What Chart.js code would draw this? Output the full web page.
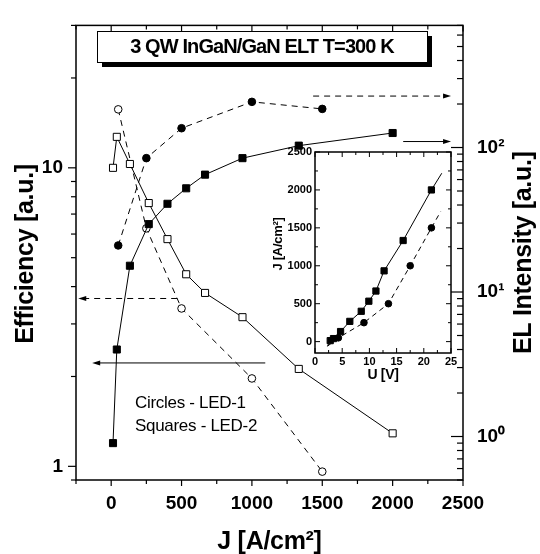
<!DOCTYPE html>
<html>
<head>
<meta charset="utf-8">
<title>InGaN/GaN LED efficiency and EL intensity</title>
<script src="https://cdn.jsdelivr.net/npm/chart.js@4.4.1/dist/chart.umd.min.js"></script>
<style>
  body { margin: 0; background: #fff; }
  #wrap { position: relative; width: 540px; height: 554px; }
  #mainChart { position: absolute; left: 0; top: 0; }
  #insetChart { position: absolute; left: 265px; top: 140px; }
</style>
</head>
<body>
<div id="wrap">
  <canvas id="mainChart" width="540" height="554"></canvas>
  <canvas id="insetChart" width="200" height="250"></canvas>
</div>
<script>
// --- Data ---
// LED-2 (squares)
const led2J = [13, 40, 133, 267, 400, 533, 667, 933, 1333, 2000];
const led2EL = [0.9, 4.0, 15.2, 29.5, 40.8, 52.2, 64.9, 84.4, 103, 126];
const led2Eff = [10.0, 12.7, 10.3, 7.62, 5.77, 4.4, 3.81, 3.16, 2.12, 1.29];
const led2U = [2.8, 3.4, 4.7, 6.4, 8.5, 9.9, 11.2, 12.7, 16.2, 21.4];

// LED-1 (circles)
const led1J = [50, 250, 500, 1000, 1500];
const led1EL = [21.0, 84.4, 136, 207, 185];
const led1Eff = [15.7, 6.27, 3.38, 1.97, 0.96];
const led1U = [4.3, 9.0, 13.5, 17.5, 21.4];

// I-V curves continue past the measured points
const led2CurveU = [2.3, 23.3];
const led2CurveJ = [-60, 2220];
const led1CurveU = [2.3, 23.1];
const led1CurveJ = [-60, 1715];

// arrows telling which axis a curve belongs to
const arrowFromJ = [1435, 2075, 469, 1095];
const arrowToJ = [2415, 2415, -234, -135];
const arrowLevel = [227, 110, 3.65, 2.22];
const arrowAxis = ['y2', 'y2', 'y', 'y'];
const arrowDashed = [true, false, true, false];

// ticks
const jTicks = [0, 500, 1000, 1500, 2000, 2500];
const effTicks = [1, 10];
const elTicks = [1, 10, 100];
const elTickLabels = ['10\u2070', '10\u00B9', '10\u00B2'];
const uTicks = [0, 5, 10, 15, 20, 25];
const jInsetTicks = [0, 500, 1000, 1500, 2000, 2500];

const titleText = '3 QW InGaN/GaN ELT T=300 K';
const legendLines = ['Circles - LED-1', 'Squares - LED-2'];

const FONT = '"Liberation Sans", Arial, sans-serif';
const DASH = [6, 5];

const pts = (xs, ys) => xs.map((x, i) => ({ x, y: ys[i] }));

// --- Helpers ---
function drawText(ctx, text, x, y, font, angle, align, spacing) {
  ctx.save();
  ctx.translate(x, y);
  if (angle) ctx.rotate(angle);
  ctx.font = font;
  ctx.letterSpacing = spacing || '0px';
  ctx.textAlign = align || 'center';
  ctx.textBaseline = 'middle';
  ctx.fillStyle = '#000';
  ctx.fillText(text, 0, 0);
  ctx.restore();
}

function line(ctx, x1, y1, x2, y2) {
  ctx.beginPath();
  ctx.moveTo(x1, y1);
  ctx.lineTo(x2, y2);
  ctx.stroke();
}

function logMinors(min, max) {
  const out = [];
  for (let d = Math.floor(Math.log10(min)); d <= Math.ceil(Math.log10(max)); d++) {
    for (let k = 1; k < 10; k++) {
      const v = k * Math.pow(10, d);
      if (v >= min * 0.999 && v <= max * 1.001) out.push({ v, major: k === 1 });
    }
  }
  return out;
}

function linMinors(min, max, step, majorStep) {
  const out = [];
  for (let v = Math.ceil(min / step) * step; v <= max + 1e-9; v += step) {
    out.push({ v, major: Math.abs(v / majorStep - Math.round(v / majorStep)) < 1e-6 });
  }
  return out;
}

// --- Main chart decorations ---
const mainDecor = {
  id: 'mainDecor',
  afterDraw(chart) {
    const { ctx, chartArea: a, scales } = chart;
    const sx = scales.x, sy = scales.y, sy2 = scales.y2;
    ctx.save();
    ctx.strokeStyle = '#000';
    ctx.fillStyle = '#000';

    // frame
    ctx.lineWidth = 1.5;
    ctx.strokeRect(a.left, a.top, a.right - a.left, a.bottom - a.top);

    // ticks
    ctx.lineWidth = 1.2;
    linMinors(sx.min, sx.max, 250, 500).forEach(t => {
      const px = sx.getPixelForValue(t.v);
      line(ctx, px, a.bottom, px, a.bottom + (t.major ? 6 : 4));
      line(ctx, px, a.top, px, a.top + (t.major ? 6 : 4));
    });
    logMinors(sy.min, sy.max).forEach(t => {
      const py = sy.getPixelForValue(t.v);
      line(ctx, a.left - (t.major ? 8 : 5), py, a.left, py);
    });
    logMinors(sy2.min, sy2.max).forEach(t => {
      const py = sy2.getPixelForValue(t.v);
      line(ctx, a.right - (t.major ? 12 : 6), py, a.right, py);
    });

    // arrows
    ctx.lineWidth = 1;
    arrowFromJ.forEach((j0, i) => {
      const sc = scales[arrowAxis[i]];
      const x0 = sx.getPixelForValue(j0);
      const x1 = sx.getPixelForValue(arrowToJ[i]);
      const y = sc.getPixelForValue(arrowLevel[i]);
      const dir = Math.sign(x1 - x0);
      ctx.setLineDash(arrowDashed[i] ? DASH : []);
      line(ctx, x0, y, x1 - dir * 6, y);
      ctx.setLineDash([]);
      ctx.beginPath();
      ctx.moveTo(x1, y);
      ctx.lineTo(x1 - dir * 8, y - 2.5);
      ctx.lineTo(x1 - dir * 8, y + 2.5);
      ctx.closePath();
      ctx.fill();
    });

    // title box with drop shadow
    const bx = 97, by = 31, bw = 330, bh = 31;
    ctx.fillRect(bx + 5, by + 5, bw, bh);
    ctx.fillStyle = '#fff';
    ctx.fillRect(bx, by, bw, bh);
    ctx.lineWidth = 1;
    ctx.strokeRect(bx + 0.5, by + 0.5, bw, bh);
    drawText(ctx, titleText, bx + bw / 2, by + bh / 2 + 1, 'bold 20px ' + FONT, 0, 'center', '-0.9px');

    // legend note
    drawText(ctx, legendLines[0], 135, 403, '17px ' + FONT, 0, 'left', '-0.3px');
    drawText(ctx, legendLines[1], 135, 426, '17px ' + FONT, 0, 'left', '-0.3px');

    // axis titles
    const midY = (a.top + a.bottom) / 2;
    drawText(ctx, 'Efficiency [a.u.]', 26, 254, 'bold 25px ' + FONT, -Math.PI / 2, 'center', '-0.3px');
    drawText(ctx, 'EL Intensity [a.u.]', 524, midY, 'bold 25px ' + FONT, -Math.PI / 2, 'center', '-0.3px');
    drawText(ctx, 'J [A/cm\u00B2]', (a.left + a.right) / 2, 542, 'bold 25px ' + FONT, 0, 'center', '-0.3px');
    ctx.restore();
  }
};

const tickFont = { family: FONT, size: 19, weight: 'bold' };

new Chart(document.getElementById('mainChart'), {
  type: 'line',
  data: {
    datasets: [
      {
        label: 'LED-2 EL',
        data: pts(led2J, led2EL),
        yAxisID: 'y2',
        borderColor: '#000', borderWidth: 1,
        pointStyle: 'rect', pointRadius: 5,
        pointBackgroundColor: '#000', pointBorderColor: '#000'
      },
      {
        label: 'LED-1 EL',
        data: pts(led1J, led1EL),
        yAxisID: 'y2',
        borderColor: '#000', borderWidth: 1, borderDash: DASH,
        pointStyle: 'circle', pointRadius: 3.8,
        pointBackgroundColor: '#000', pointBorderColor: '#000'
      },
      {
        label: 'LED-2 efficiency',
        data: pts(led2J, led2Eff),
        yAxisID: 'y',
        borderColor: '#000', borderWidth: 1,
        pointStyle: 'rect', pointRadius: 5,
        pointBackgroundColor: '#fff', pointBorderColor: '#000', pointBorderWidth: 1
      },
      {
        label: 'LED-1 efficiency',
        data: pts(led1J, led1Eff),
        yAxisID: 'y',
        borderColor: '#000', borderWidth: 1, borderDash: DASH,
        pointStyle: 'circle', pointRadius: 3.8,
        pointBackgroundColor: '#fff', pointBorderColor: '#000', pointBorderWidth: 1
      }
    ]
  },
  options: {
    responsive: false,
    animation: false,
    devicePixelRatio: 1,
    layout: { padding: { top: 13, left: 0, right: 0, bottom: 0 } },
    plugins: { legend: { display: false }, tooltip: { enabled: false } },
    scales: {
      x: {
        type: 'linear', position: 'bottom', min: -250, max: 2500,
        grid: { display: false, drawTicks: false }, border: { display: false },
        afterBuildTicks: s => { s.ticks = jTicks.map(v => ({ value: v })); },
        afterFit: s => { s.height = 74; },
        ticks: { color: '#000', font: tickFont, padding: 12, maxRotation: 0, autoSkip: false, callback: v => String(v) }
      },
      y: {
        type: 'logarithmic', position: 'left', min: 0.9, max: 30,
        grid: { display: false, drawTicks: false }, border: { display: false },
        afterBuildTicks: s => { s.ticks = effTicks.map(v => ({ value: v })); },
        afterFit: s => { s.width = 76; },
        ticks: { color: '#000', font: tickFont, padding: 13, callback: v => String(v) }
      },
      y2: {
        type: 'logarithmic', position: 'right', min: 0.5, max: 700,
        grid: { display: false, drawTicks: false }, border: { display: false },
        afterBuildTicks: s => { s.ticks = elTicks.map(v => ({ value: v })); },
        afterFit: s => { s.width = 77; },
        ticks: { color: '#000', font: tickFont, padding: 14, callback: v => elTickLabels[elTicks.indexOf(v)] }
      }
    }
  },
  plugins: [mainDecor]
});

// --- Inset: J-U characteristics ---
const insetDecor = {
  id: 'insetDecor',
  beforeDraw(chart) {
    const { ctx, chartArea: a } = chart;
    ctx.save();
    ctx.fillStyle = '#fff';
    ctx.fillRect(a.left, a.top, a.right - a.left, a.bottom - a.top);
    ctx.restore();
  },
  afterDraw(chart) {
    const { ctx, chartArea: a, scales } = chart;
    const sx = scales.x, sy = scales.y;
    ctx.save();
    ctx.strokeStyle = '#000';
    ctx.lineWidth = 1.5;
    ctx.strokeRect(a.left, a.top, a.right - a.left, a.bottom - a.top);
    ctx.lineWidth = 1;
    linMinors(sx.min, sx.max, 2.5, 5).forEach(t => {
      const px = sx.getPixelForValue(t.v);
      const len = t.major ? 5 : 3;
      line(ctx, px, a.bottom, px, a.bottom - len);
      line(ctx, px, a.top, px, a.top + len);
    });
    linMinors(sy.min, sy.max, 250, 500).forEach(t => {
      const py = sy.getPixelForValue(t.v);
      const len = t.major ? 5 : 3;
      line(ctx, a.left, py, a.left + len, py);
      line(ctx, a.right, py, a.right - len, py);
    });
    drawText(ctx, 'J [A/cm\u00B2]', 13, 104, 'bold 13px ' + FONT, -Math.PI / 2, 'center', '-0.3px');
    drawText(ctx, 'U [V]', (a.left + a.right) / 2, 235, 'bold 14px ' + FONT, 0, 'center', '-0.3px');
    ctx.restore();
  }
};

const insetFont = { family: FONT, size: 11, weight: 'bold' };

new Chart(document.getElementById('insetChart'), {
  type: 'line',
  data: {
    datasets: [
      {
        label: 'LED-2 curve',
        data: pts([led2CurveU[0], ...led2U, led2CurveU[1]], [led2CurveJ[0], ...led2J, led2CurveJ[1]]),
        borderColor: '#000', borderWidth: 1, pointRadius: 0
      },
      {
        label: 'LED-1 curve',
        data: pts([led1CurveU[0], ...led1U, led1CurveU[1]], [led1CurveJ[0], ...led1J, led1CurveJ[1]]),
        borderColor: '#000', borderWidth: 1, borderDash: [5, 4], pointRadius: 0
      },
      {
        label: 'LED-2',
        data: pts(led2U, led2J),
        showLine: false,
        pointStyle: 'rect', pointRadius: 4.4,
        pointBackgroundColor: '#000', pointBorderColor: '#000'
      },
      {
        label: 'LED-1',
        data: pts(led1U, led1J),
        showLine: false,
        pointStyle: 'circle', pointRadius: 3.3,
        pointBackgroundColor: '#000', pointBorderColor: '#000'
      }
    ]
  },
  options: {
    responsive: false,
    animation: false,
    devicePixelRatio: 1,
    layout: { padding: { top: 12, left: 0, right: 14, bottom: 0 } },
    plugins: { legend: { display: false }, tooltip: { enabled: false } },
    scales: {
      x: {
        type: 'linear', min: 0, max: 25,
        grid: { display: false, drawTicks: false }, border: { display: false },
        afterBuildTicks: s => { s.ticks = uTicks.map(v => ({ value: v })); },
        afterFit: s => { s.height = 37; },
        ticks: { color: '#000', font: insetFont, padding: 2, maxRotation: 0, autoSkip: false, callback: v => String(v) }
      },
      y: {
        type: 'linear', min: -150, max: 2500,
        grid: { display: false, drawTicks: false }, border: { display: false },
        afterBuildTicks: s => { s.ticks = jInsetTicks.map(v => ({ value: v })); },
        afterFit: s => { s.width = 50; },
        ticks: { color: '#000', font: insetFont, padding: 3, callback: v => String(v) }
      }
    }
  },
  plugins: [insetDecor]
});
</script>
</body>
</html>
